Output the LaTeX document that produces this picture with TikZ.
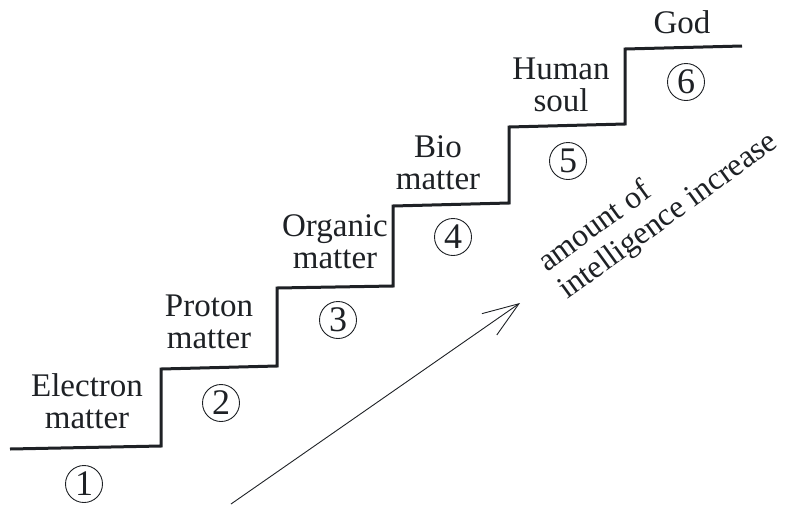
\documentclass[tikz,border=0pt]{standalone}
\usepackage{fontspec}
\setmainfont{Liberation Serif}
\usetikzlibrary{arrows.meta}
\definecolor{ink}{HTML}{1E2125}
\begin{document}
\begin{tikzpicture}[x=1pt,y=-1pt,
  stairline/.style={draw=ink,line width=3pt,line join=miter},
  steplabel/.style={text=ink,align=center,inner sep=0pt,font=\fontsize{33}{32}\selectfont},
  numcirc/.style={draw=ink,circle,line width=0.9pt,minimum size=37pt,inner sep=0pt,text=ink,font=\fontsize{36}{36}\selectfont},
  sidelabel/.style={text=ink,align=left,inner sep=0pt,font=\fontsize{32}{34}\selectfont}]
\useasboundingbox (0,0) rectangle (792,504);
\draw[stairline] (10,449) -- (161,446) -- (161,369) -- (277,366) -- (277,288) -- (393,286) -- (393,206) -- (509,203) -- (509,127) -- (625,124) -- (625,49) -- (742,46);
\node[steplabel] (l1) at (87,401) {Electron\\matter};
\node[steplabel] (l2) at (209,322) {Proton\\matter};
\node[steplabel] (l3) at (335,242) {Organic\\matter};
\node[steplabel] (l4) at (438,163) {Bio\\matter};
\node[steplabel] (l5) at (561,85) {Human\\soul};
\node[steplabel] (l6) at (682,22) {God};
\node[numcirc] (c1) at (84,484) {1};
\node[numcirc] (c2) at (221,403) {2};
\node[numcirc] (c3) at (338,320) {3};
\node[numcirc] (c4) at (453,237) {4};
\node[numcirc] (c5) at (568,161) {5};
\node[numcirc] (c6) at (686,82) {6};
\coordinate (a0) at (231,504);
\coordinate (a1) at (520,303);
\draw[draw=ink,line width=0.9pt,-{Straight Barb[length=36pt,width=26pt,line width=0.9pt]}] (a0) -- (a1);
\node[sidelabel,rotate=36,anchor=base west] (t1) at (567,300) {amount of\\intelligence increase};
\end{tikzpicture}
\end{document}
